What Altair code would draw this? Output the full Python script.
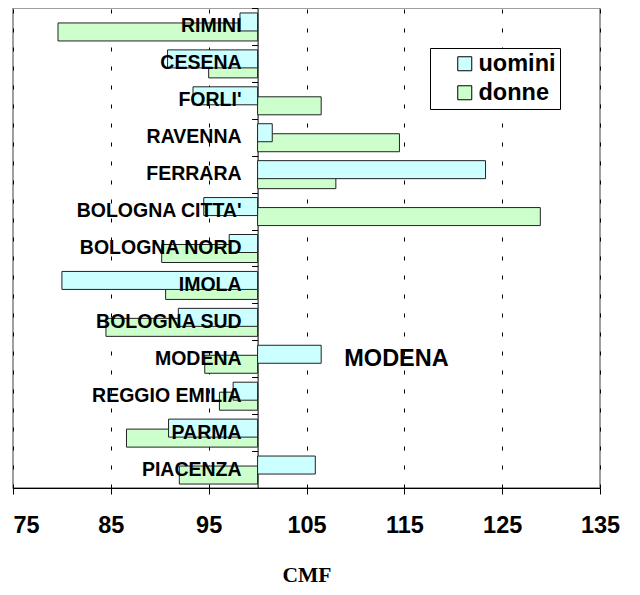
import altair as alt
import pandas as pd

categories = ["RIMINI", "CESENA", "FORLI'", "RAVENNA", "FERRARA", "BOLOGNA CITTA'",
              "BOLOGNA NORD", "IMOLA", "BOLOGNA SUD", "MODENA", "REGGIO EMILIA",
              "PARMA", "PIACENZA"]
uomini = [98.2, 90.8, 93.4, 101.5, 123.3, 94.5, 97.1, 80.0, 91.9, 106.5, 97.5, 90.9, 105.9]
donne = [79.6, 95.0, 106.5, 114.5, 108.0, 128.9, 90.2, 90.6, 84.5, 94.6, 96.1, 86.6, 92.0]
series = ["uomini", "donne"]
colors = ["#CCFFFF", "#CCFFCC"]
x_ticks = [75, 85, 95, 105, 115, 125, 135]
baseline = 100
note_cat = ["MODENA"]
note_x = [114.2]

rows = []
for i, c in enumerate(categories):
    rows.append({"cat": c, "serie": "uomini", "val": uomini[i]})
    rows.append({"cat": c, "serie": "donne", "val": donne[i]})
df = pd.DataFrame(rows)

W, H = 587, 480
xscale = alt.Scale(domain=[75, 135], nice=False, zero=False)
xaxis = alt.Axis(
    values=x_ticks, title="CMF", grid=True, gridColor="black", gridDash=[4, 15],
    gridWidth=1, domainColor="black", domainWidth=1, tickColor="black", tickSize=6,
    labelFont="Liberation Sans", labelFontWeight="bold", labelFontSize=23.5,
    labelColor="black", labelPadding=19,
    labelAlign={"condition": {"test": "datum.value == 75", "value": "left"}, "value": "center"},
    titleFont="Liberation Serif", titleFontWeight="bold", titleFontSize=21.5,
    titleColor="black", titlePadding=28,
)
yaxis = alt.Axis(
    title=None, labels=False, offset=-(W * (baseline - 75) / 60.0), tickBand="extent",
    tickSize=6, tickColor="black", domainColor="black", domainWidth=1, grid=False,
)
yenc = alt.Y("cat:N", sort=categories,
             scale=alt.Scale(paddingInner=0, paddingOuter=0), axis=yaxis)

color = alt.Color(
    "serie:N",
    scale=alt.Scale(domain=series, range=colors),
    legend=alt.Legend(
        title=None, orient="none", legendX=417, legendY=40, direction="vertical",
        fillColor="white", strokeColor="black", padding=4,
        symbolType="square", symbolSize=196, symbolStrokeColor="black",
        symbolStrokeWidth=1, symbolOffset=19,
        labelFont="Liberation Sans", labelFontWeight="bold", labelFontSize=23.5,
        labelColor="black", labelOffset=2, rowPadding=4,
        labelExpr="datum.label + '     '",
    ),
)

base = alt.Chart(df)
bar_d = base.transform_filter("datum.serie == 'donne'").mark_bar(
    height=18, yOffset=5.5, stroke="#222222", strokeWidth=1
).encode(
    y=yenc, x=alt.X("val:Q", scale=xscale, axis=xaxis), x2=alt.datum(baseline), color=color
)
bar_u = base.transform_filter("datum.serie == 'uomini'").mark_bar(
    height=18, yOffset=-4.5, stroke="#222222", strokeWidth=1
).encode(
    y=yenc, x=alt.X("val:Q", scale=xscale, axis=xaxis), x2=alt.datum(baseline), color=color
)

labels = alt.Chart(pd.DataFrame({"cat": categories})).mark_text(
    align="right", baseline="middle", dx=-16, font="Liberation Sans",
    fontWeight="bold", fontSize=19.5, color="black"
).encode(
    y=yenc, x=alt.X(datum=baseline, scale=xscale, axis=xaxis), text="cat:N"
)

note = alt.Chart(pd.DataFrame({"cat": note_cat, "x": note_x})).mark_text(
    align="center", baseline="middle", font="Liberation Sans",
    fontWeight="bold", fontSize=23.5, color="black"
).encode(
    y=yenc, x=alt.X("x:Q", scale=xscale, axis=xaxis), text="cat:N"
)

chart = alt.layer(bar_d, bar_u, labels, note).properties(
    width=W, height=H,
    autosize=alt.AutoSizeParams(type="none"),
    padding={"left": 5, "top": 0, "right": 32, "bottom": 99},
).configure_view(stroke="#808080", strokeWidth=1.5)

chart.save("out.html", embed_options={"renderer": "svg", "actions": False})
